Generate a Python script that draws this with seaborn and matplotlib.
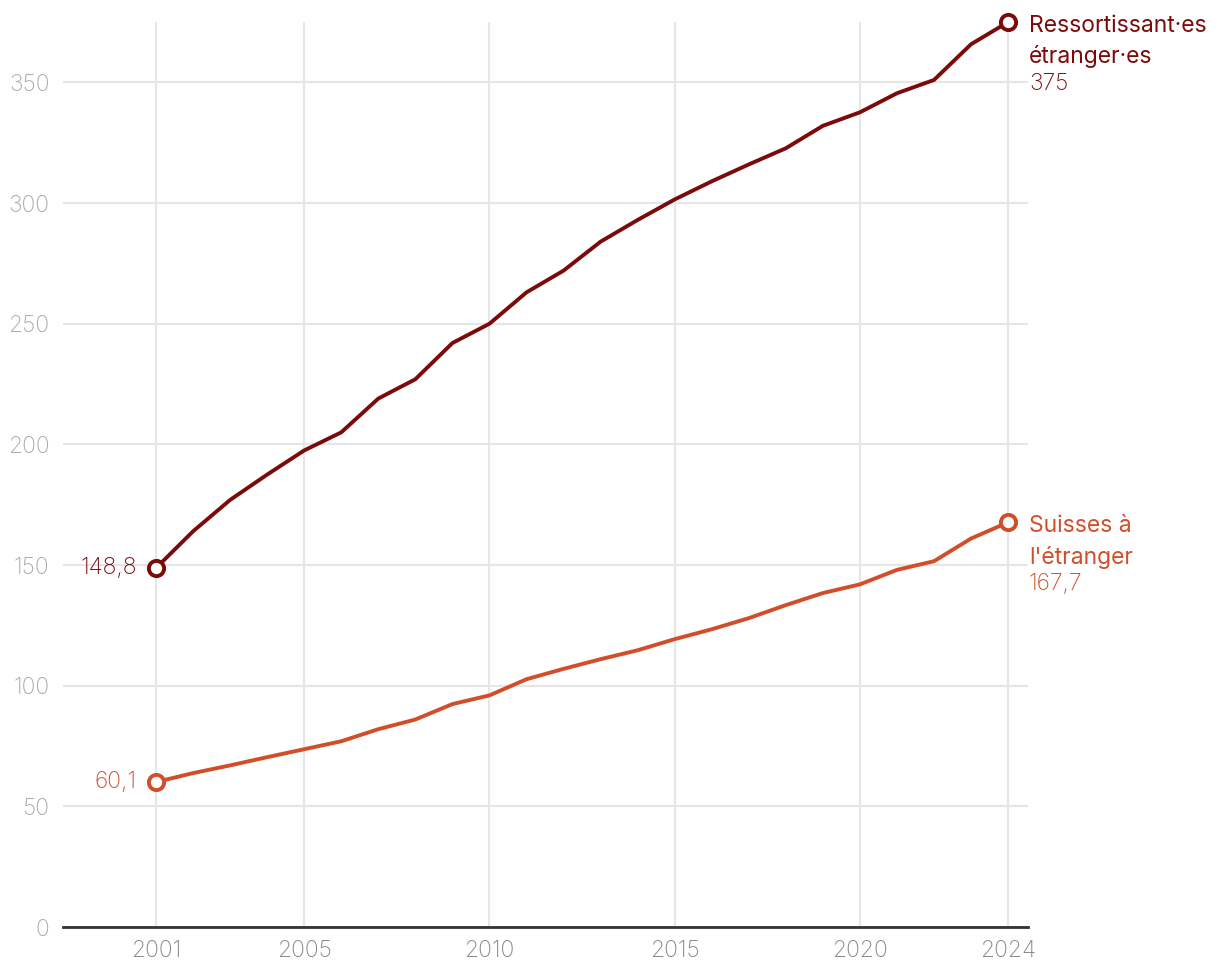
import matplotlib
matplotlib.use("Agg")
import matplotlib.pyplot as plt
import seaborn as sns
import pandas as pd

# data (milliers)
years = list(range(2001, 2025))
etrangers = [148.8, 164, 177, 187.5, 197.5, 205, 219, 227, 242, 250,
             263, 272, 284, 293, 301.5, 309, 316, 322.7, 332, 337.6,
             345.5, 351, 365.8, 375]
suisses = [60.1, 63.8, 67, 70.4, 73.7, 77, 82, 86, 92.4, 96,
           102.7, 107, 111, 114.7, 119.3, 123.4, 128, 133.4, 138.4, 142,
           148, 151.6, 161, 167.7]
series_names = ["Ressortissant·es\nétranger·es", "Suisses à\nl'étranger"]
end_labels = ["375", "167,7"]
start_labels = ["148,8", "60,1"]
x_ticks = [2001, 2005, 2010, 2015, 2020, 2024]
y_ticks = [0, 50, 100, 150, 200, 250, 300, 350]

colors = ["#7b0a0a", "#d24e2a"]

df = pd.DataFrame({
    "year": years * 2,
    "value": etrangers + suisses,
    "serie": [series_names[0]] * len(years) + [series_names[1]] * len(years),
})

sns.set_style("white")
plt.rcParams["font.family"] = ["Inter", "DejaVu Sans"]
plt.rcParams["font.weight"] = "light"

fig, ax = plt.subplots(figsize=(12.2, 9.8), dpi=100)
fig.subplots_adjust(left=0.052, right=0.843, top=0.9775, bottom=0.054)

sns.lineplot(data=df, x="year", y="value", hue="serie", palette=colors,
             linewidth=2.8, legend=False, ax=ax, solid_joinstyle="round",
             solid_capstyle="round")

for i, vals in enumerate([etrangers, suisses]):
    c = colors[i]
    ax.scatter([years[0], years[-1]], [vals[0], vals[-1]], s=120,
               facecolor="white", edgecolor=c, linewidth=2.8, zorder=5,
               clip_on=False)
    ax.annotate(start_labels[i], (years[0], vals[0]), xytext=(-14, 0),
                textcoords="offset points", ha="right", va="center",
                color=c, fontsize=16.5)
    ax.annotate(series_names[i], (years[-1], vals[-1]),
                xytext=(15, 5), textcoords="offset points", ha="left",
                va="top", color=c, fontsize=16.5, linespacing=1.45,
                fontweight="normal")
    ax.annotate(end_labels[i], (years[-1], vals[-1]),
                xytext=(15, -44.5), textcoords="offset points", ha="left",
                va="center", color=c, fontsize=16.5)

ax.set_xlim(1998.5, 2024.55)
ax.set_ylim(0, 375)
ax.set_xticks(x_ticks)
ax.set_yticks(y_ticks)
ax.grid(True, color="#e6e6e6", linewidth=1.5)
ax.set_axisbelow(True)
for s in ["top", "right", "left"]:
    ax.spines[s].set_visible(False)
ax.spines["bottom"].set_color("#333333")
ax.spines["bottom"].set_linewidth(2)
ax.tick_params(axis="x", length=0, pad=9, labelsize=16.5, labelcolor="#888888")
ax.tick_params(axis="y", length=0, pad=10, labelsize=16.5, labelcolor="#aaaaaa")
ax.set_xlabel("")
ax.set_ylabel("")

plt.savefig("out.png", dpi=100)
